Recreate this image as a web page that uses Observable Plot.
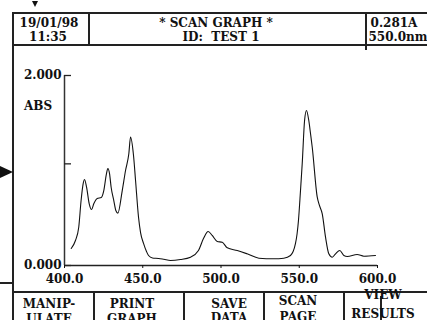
<!DOCTYPE html>
<html><head><meta charset="utf-8">
<script src="https://cdn.jsdelivr.net/npm/d3@7"></script>
<script src="https://cdn.jsdelivr.net/npm/@observablehq/plot@0.6"></script>
<style>
body{margin:0;background:#fff;}
#wrap{position:relative;width:427px;height:320px;overflow:hidden;font-family:"DejaVu Serif";font-weight:bold;font-size:12px;color:#111;}
#wrap svg{position:absolute;left:0;top:0;}
.t{position:absolute;white-space:pre;line-height:14px;text-align:center;width:120px;}
.ln{position:absolute;background:#222;}
</style></head><body><div id="wrap"></div>
<script>
// ---- data ----
const wavelength = [404.3,407.0,409.1,410.6,411.9,412.8,414.1,415.8,417.3,418.7,420.9,423.5,425.1,426.8,427.7,428.8,429.8,431.5,432.8,434.1,436.9,439.0,441.1,442.2,444.1,445.4,447.3,448.6,450.5,452.4,453.7,456.2,460.1,463.5,467.7,474.1,480.5,485.6,488.8,491.8,494.4,497.6,500.8,504.0,510.4,516.7,524.2,533.7,540.1,544.4,547.6,549.5,550.8,551.9,553.4,554.6,556.1,557.2,558.3,561.5,562.9,564.7,566.8,568.9,571.1,573.2,575.9,578.5,580.7,587.0,591.3,598.7];
const absorbance = [0.179,0.263,0.403,0.684,0.860,0.905,0.824,0.649,0.589,0.649,0.705,0.716,0.789,0.965,1.021,0.965,0.824,0.684,0.579,0.551,0.789,1.0,1.176,1.351,1.158,0.895,0.508,0.347,0.232,0.147,0.105,0.079,0.074,0.065,0.053,0.063,0.087,0.158,0.284,0.358,0.316,0.253,0.245,0.186,0.158,0.123,0.077,0.071,0.077,0.105,0.232,0.474,0.789,1.074,1.526,1.632,1.526,1.389,1.245,0.719,0.632,0.544,0.298,0.123,0.087,0.123,0.158,0.105,0.095,0.116,0.098,0.105];
const xTicks = [400, 450, 500, 550, 600];
const yLabelTicks = [0, 2];
const yTicks = [0, 1.07, 2];
const yTitle = "ABS";
const headerLeft = ["19/01/98", "11:35"];
const headerMid = ["* SCAN GRAPH *", "ID:  TEST 1"];
const headerRight = ["0.281A", "550.0nm"];
const buttons = [["MANIP-", "ULATE"], ["PRINT", "GRAPH"], ["SAVE", "DATA"], ["SCAN", "PAGE"], ["VIEW", "RESULTS"]];

const data = wavelength.map((w, i) => ({nm: w, abs: absorbance[i]}));

const chart = Plot.plot({
  width: 427, height: 320,
  marginLeft: 64, marginRight: 50, marginTop: 75, marginBottom: 55,
  x: {domain: [400, 600]},
  y: {domain: [0, 2]},
  style: {fontFamily: "DejaVu Serif", fontWeight: "bold", fontSize: "12px", color: "#111", background: "transparent", overflow: "visible"},
  marks: [
    Plot.ruleX([400], {stroke: "#333", strokeWidth: 1.5}),
    Plot.ruleY([0], {stroke: "#222", strokeWidth: 1.5}),
    Plot.axisY({ticks: yLabelTicks, tickSize: 0, tickPadding: 3, tickFormat: d => d.toFixed(3), label: null, dy: 0}),
    Plot.axisY({ticks: yTicks, tickSize: -7, tickFormat: () => "", label: null, stroke: "#222", strokeWidth: 1.3}),
    Plot.axisX({ticks: xTicks, tickSize: 3, tickPadding: 6, tickFormat: d => d.toFixed(1), label: null}),
    Plot.line(data, {x: "nm", y: "abs", stroke: "#111", strokeWidth: 1.1, curve: "monotone-x"})
  ]
});

const wrap = document.getElementById("wrap");
wrap.appendChild(chart);

function text(str, cx, cy) {
  const d = document.createElement("div");
  d.className = "t";
  d.textContent = str;
  d.style.left = (cx - 60) + "px";
  d.style.top = (cy - 5) + "px";
  wrap.appendChild(d);
}
function line(x, y, w, h) {
  const d = document.createElement("div");
  d.className = "ln";
  Object.assign(d.style, {left: x + "px", top: y + "px", width: w + "px", height: h + "px"});
  wrap.appendChild(d);
}

// frame
line(12, 12, 415, 1.5);
line(12, 44, 415, 1.5);
line(12, 12, 1.5, 308);
line(88, 12, 1.5, 33);
line(365, 12, 1.5, 38);
line(12, 291, 415, 1.5);
line(0, 282, 12, 1.5);
[93, 183, 263, 343].forEach(x => line(x, 291, 1.5, 29));
line(380, 296, 1.5, 24);

// header texts
text(headerLeft[0], 49, 21); text(headerLeft[1], 48, 35);
text(headerMid[0], 216, 21); text(headerMid[1], 221, 35);
text(headerRight[0], 394, 21); text(headerRight[1], 398, 35);
text(yTitle, 38, 104);

// buttons
const bx = [49, 132, 229, 298, 383];
const by = [[302, 317], [302, 317], [302, 316], [299, 315], [293, 312]];
buttons.forEach((b, i) => { text(b[0], bx[i], by[i][0]); text(b[1], bx[i], by[i][1]); });

// arrows
const a1 = document.createElement("div");
Object.assign(a1.style, {position: "absolute", left: "32px", top: "1px", width: 0, height: 0,
  borderLeft: "3px solid transparent", borderRight: "3px solid transparent", borderTop: "6px solid #111"});
wrap.appendChild(a1);
const a2 = document.createElement("div");
Object.assign(a2.style, {position: "absolute", left: "0px", top: "166px", width: 0, height: 0,
  borderTop: "6px solid transparent", borderBottom: "6px solid transparent", borderLeft: "13px solid #111"});
wrap.appendChild(a2);
</script>
</body></html>
